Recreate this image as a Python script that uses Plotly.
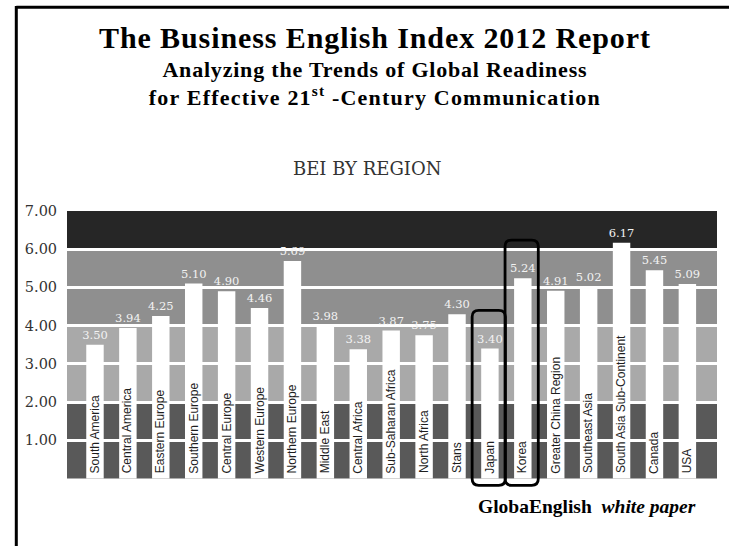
import plotly.graph_objects as go

regions = ["South America", "Central America", "Eastern Europe", "Southern Europe",
           "Central Europe", "Western Europe", "Northern Europe", "Middle East",
           "Central Africa", "Sub-Saharan Africa", "North Africa", "Stans", "Japan",
           "Korea", "Greater China Region", "Southeast Asia", "South Asia Sub-Continent",
           "Canada", "USA"]
bei = [3.50, 3.94, 4.25, 5.10, 4.90, 4.46, 5.69, 3.98, 3.38, 3.87, 3.75, 4.30, 3.40,
       5.24, 4.91, 5.02, 6.17, 5.45, 5.09]
y_ticks = [1, 2, 3, 4, 5, 6, 7]
y_tick_labels = ["1.00", "2.00", "3.00", "4.00", "5.00", "6.00", "7.00"]
band_edges = [0, 2, 4, 6, 7]
band_colors = ["#595959", "#a9a9a9", "#8f8f8f", "#262626"]
highlighted = ["Japan", "Korea"]

xs = list(range(len(regions)))

fig = go.Figure()
fig.add_trace(go.Bar(
    x=xs, y=bei, width=0.53,
    marker=dict(color="white", line=dict(width=0)),
    text=[f"{v:.2f}" for v in bei], textposition="outside", cliponaxis=False,
    constraintext="none",
    textfont=dict(family="DejaVu Serif", size=11.5, color="#f2f2f2"),
    hoverinfo="skip",
))

shapes = []
for i in range(len(band_colors)):
    shapes.append(dict(type="rect", xref="paper", yref="y", x0=0, x1=1,
                       y0=band_edges[i], y1=band_edges[i + 1],
                       fillcolor=band_colors[i], line=dict(width=0), layer="below"))


def rounded(x0, x1, y0, y1, rx=0.2, ry=0.17):
    return (f"M {x0+rx},{y1} L {x1-rx},{y1} Q {x1},{y1} {x1},{y1-ry} "
            f"L {x1},{y0+ry} Q {x1},{y0} {x1-rx},{y0} L {x0+rx},{y0} "
            f"Q {x0},{y0} {x0},{y0+ry} L {x0},{y1-ry} Q {x0},{y1} {x0+rx},{y1} Z")


for name in highlighted:
    i = regions.index(name)
    shapes.append(dict(type="path", xref="x", yref="y",
                       path=rounded(i - 0.54, i + 0.47, -0.18, bei[i] + 1.0),
                       line=dict(color="black", width=2.8), layer="above"))

# frame lines
shapes.append(dict(type="line", xref="paper", yref="paper", x0=-0.078, x1=1.02,
                   y0=1.736, y1=1.736, line=dict(color="black", width=3)))
shapes.append(dict(type="line", xref="paper", yref="paper", x0=-0.078, x1=-0.078,
                   y0=1.74, y1=-0.22, line=dict(color="black", width=3)))

annotations = []
for i, name in enumerate(regions):
    annotations.append(dict(x=i, y=0, xref="x", yref="y", text=name, textangle=-90,
                            showarrow=False, xanchor="center", yanchor="bottom", yshift=3,
                            font=dict(family="Liberation Sans", size=12, color="#1e1e1e")))

title_font = "Liberation Serif"
title_text = ("<b><span style='font-size:30px;letter-spacing:0.9px'>"
              "The Business English Index 2012 Report</span>"
              "<br><span style='font-size:22px;letter-spacing:0.8px'>"
              "Analyzing the Trends of Global Readiness</span>"
              "<br><span style='font-size:22px;letter-spacing:1.2px'>"
              "for Effective 21<sup>st</sup> -Century Communication</span></b>")
annotations += [
    dict(x=0.474, y=1.527, xref="paper", yref="paper", showarrow=False,
         text=title_text, xanchor="center", yanchor="middle", align="center",
         font=dict(family=title_font, size=22, color="black")),
    dict(x=0.462, y=1.155, xref="paper", yref="paper", showarrow=False,
         text="BEI BY REGION", xanchor="center",
         font=dict(family="DejaVu Serif", size=18, color="#333333"), yanchor="middle"),
    dict(x=0.80, y=-0.066, xref="paper", yref="paper", showarrow=False,
         text="<b>GlobaEnglish  <i>white paper</i></b>", xanchor="center",
         font=dict(family=title_font, size=19.5, color="black"), yanchor="middle"),
]

fig.update_layout(
    width=729, height=546,
    margin=dict(l=67, r=12, t=211, b=58, pad=0),
    paper_bgcolor="white", plot_bgcolor="white",
    showlegend=False, bargap=0.4,
    shapes=shapes, annotations=annotations,
    xaxis=dict(range=[-0.85, 18.9], showticklabels=False, showgrid=False,
               zeroline=False, showline=False, ticks=""),
    yaxis=dict(range=[-0.25, 7.0], tickvals=y_ticks, ticktext=y_tick_labels,
               showgrid=True, gridcolor="white", gridwidth=2.5, zeroline=False,
               showline=False, ticks="outside", ticklen=6, tickcolor="rgba(0,0,0,0)",
               tickfont=dict(family="DejaVu Serif", size=14.5, color="#333333")),
)

fig.write_html("out.html")
